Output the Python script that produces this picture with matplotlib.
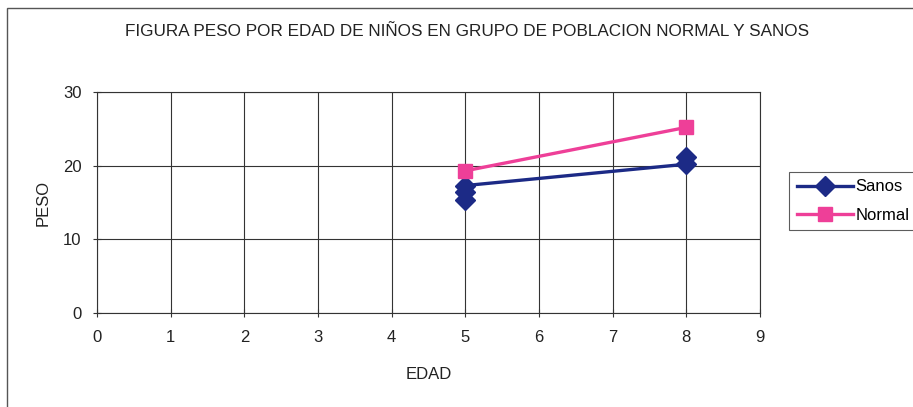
import matplotlib
matplotlib.use("Agg")
import matplotlib.pyplot as plt
from matplotlib.patches import Rectangle

plt.rcParams['font.family'] = ['Liberation Sans', 'DejaVu Sans']

# Peso (kg) por edad (años)
sanos_edad = [5, 5, 5, 8, 8]
sanos_peso = [15.3, 16.4, 17.3, 20.2, 21.2]
normal_edad = [5, 8]
normal_peso = [19.3, 25.2]

x_ticks = list(range(0, 10))
y_ticks = [0, 10, 20, 30]

fig = plt.figure(figsize=(9.13, 4.07), dpi=100)
fig.patch.set_facecolor('white')

# outer chart frame
fig.add_artist(Rectangle((7 / 913, -0.05), 1.2, 1 - 8 / 407 + 0.05,
                         transform=fig.transFigure, fill=False,
                         edgecolor='#555555', linewidth=1.0))

ax = fig.add_axes([97 / 913, 94 / 407, 663 / 913, 221 / 407])
ax.set_xlim(0, 9)
ax.set_ylim(0, 30)
ax.set_xticks(x_ticks)
ax.set_yticks(y_ticks)
ax.grid(True, color='#333333', linewidth=0.8)
ax.set_axisbelow(True)
for s in ax.spines.values():
    s.set_color('#333333')
    s.set_linewidth(0.8)
ax.tick_params(axis='both', direction='inout', length=6, width=0.8,
               color='#333333', labelsize=12, labelcolor='#222222')
ax.tick_params(axis='x', pad=9)
ax.tick_params(axis='y', pad=8)

ax.plot(sanos_edad, sanos_peso, color='#1c2a86', linewidth=2.4,
        marker='D', markersize=10, label='Sanos', zorder=3)
ax.plot(normal_edad, normal_peso, color='#ee3f98', linewidth=2.4,
        marker='s', markersize=10.5, label='Normal', zorder=3)

ax.set_xlabel('EDAD', fontsize=12, color='#222222', labelpad=16)
ax.set_ylabel('PESO', fontsize=12, color='#222222', labelpad=9)

fig.text(467 / 913, 1 - 32 / 407,
         'FIGURA PESO POR EDAD DE NIÑOS EN GRUPO DE POBLACION NORMAL Y SANOS',
         ha='center', va='center', fontsize=12.3, color='#222222')

leg = fig.legend(loc='upper left', bbox_to_anchor=(789 / 913, 1 - 172 / 407),
                 fontsize=12, frameon=True, fancybox=False,
                 handlelength=3.4, handletextpad=0.15, borderpad=0.45,
                 labelspacing=0.8, borderaxespad=0)
leg.get_frame().set_edgecolor('#333333')
leg.get_frame().set_linewidth(0.8)

fig.savefig('out.png', dpi=100)
